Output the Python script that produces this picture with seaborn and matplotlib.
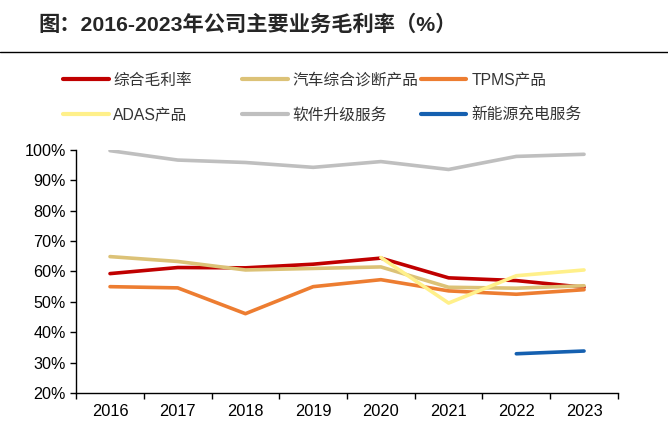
import numpy as np
import pandas as pd
import matplotlib
matplotlib.use("Agg")
import matplotlib.pyplot as plt
from matplotlib.lines import Line2D
import seaborn as sns

years = ["2016", "2017", "2018", "2019", "2020", "2021", "2022", "2023"]
series_names = ["综合毛利率", "汽车综合诊断产品", "TPMS产品", "ADAS产品", "软件升级服务", "新能源充电服务"]
total = [59.3, 61.3, 61.2, 62.4, 64.4, 57.9, 57.0, 54.8]
diag = [64.9, 63.3, 60.5, 61.0, 61.5, 54.8, 54.5, 55.3]
tpms = [55.0, 54.6, 46.1, 55.0, 57.3, 53.6, 52.5, 54.0]
adas = [np.nan, np.nan, np.nan, np.nan, 64.6, 49.6, 58.6, 60.5]
software = [99.8, 96.7, 95.9, 94.3, 96.2, 93.6, 97.9, 98.6]
charging = [np.nan, np.nan, np.nan, np.nan, np.nan, np.nan, 32.9, 33.8]
colors = ["#C00000", "#DCC277", "#ED7D31", "#FFF08A", "#BFBFBF", "#1560B0"]

sns.set_theme(style="white")
plt.rcParams["font.family"] = ["Liberation Sans", "Noto Sans CJK SC", "DejaVu Sans"]

values = [total, diag, tpms, adas, software, charging]
rows = []
for name, vals in zip(series_names, values):
    for i, (y, v) in enumerate(zip(years, vals)):
        if not np.isnan(v):
            rows.append({"x": i, "year": y, "series": name, "value": v})
df = pd.DataFrame(rows)

fig = plt.figure(figsize=(6.68, 4.40), dpi=100)
ax = fig.add_axes([0.114, 0.107, 0.811, 0.552])
palette = dict(zip(series_names, colors))
sns.lineplot(data=df, x="x", y="value", hue="series", hue_order=series_names,
             palette=palette, linewidth=2.6, ax=ax, legend=False, sort=True)

ax.set_xlim(-0.5, 7.5)
ax.set_ylim(20, 100)
ax.set_xticks(range(len(years)))
ax.set_xticklabels(years)
ax.set_xticks(np.arange(-0.5, 8.0, 1.0), minor=True)
ax.tick_params(axis="x", which="major", length=0, labelsize=11.8, pad=8, colors="black")
ax.tick_params(axis="x", which="minor", length=4, width=1, direction="out", color="black", bottom=True)
ax.set_yticks(range(20, 101, 10))
ax.set_yticklabels([f"{v}%" for v in range(20, 101, 10)])
ax.tick_params(axis="y", which="major", length=4, width=1, direction="out", left=True, labelsize=11.6, colors="black")
ax.set_xlabel("")
ax.set_ylabel("")
for s in ["top", "right"]:
    ax.spines[s].set_visible(False)
for s in ["left", "bottom"]:
    ax.spines[s].set_color("black")
    ax.spines[s].set_linewidth(1)

# legend: three fixed-position columns, two rows each
handles = [Line2D([], [], color=c, linewidth=3) for c in colors]
col_x = [0.0943, 0.3623, 0.6302]
for ci, cx in enumerate(col_x):
    idx = [ci, ci + 3]
    leg = fig.legend([handles[i] for i in idx], [series_names[i] for i in idx],
                     loc="center left", bbox_to_anchor=(cx, 0.778),
                     frameon=False, fontsize=11.3, handlelength=2.9, handletextpad=0.3,
                     labelspacing=1.25, borderpad=0, borderaxespad=0)
    for t in leg.get_texts():
        t.set_color("#333333")

fig.text(0.057, 0.945, "图：2016-2023年公司主要业务毛利率（%）", fontsize=15.3, fontweight="bold",
         va="center", ha="left", family=["Liberation Sans", "Noto Sans CJK SC"])
fig.add_artist(Line2D([0, 1], [0.8825, 0.8825], color="black", linewidth=1, transform=fig.transFigure))

fig.savefig("out.png", dpi=100)
